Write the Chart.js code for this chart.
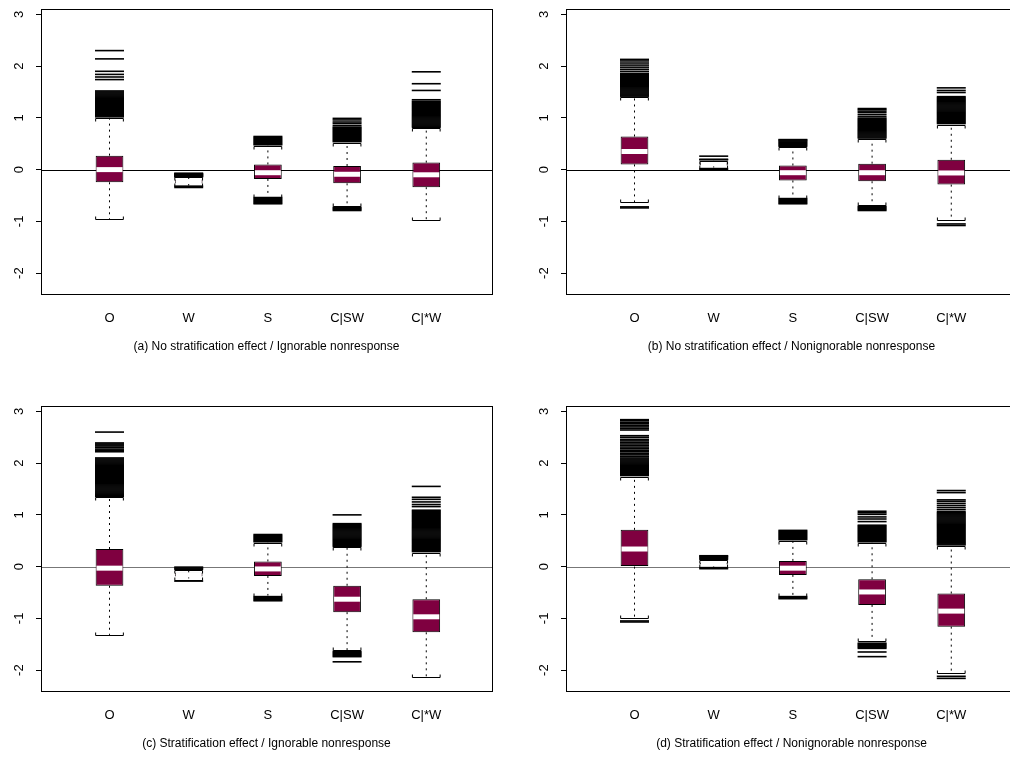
<!DOCTYPE html>
<html>
<head>
<meta charset="utf-8">
<script src="https://cdn.jsdelivr.net/npm/chart.js@4.4.0/dist/chart.umd.min.js"></script>
<style>
  html, body { margin: 0; padding: 0; background: #fff; overflow: hidden; }
  body { width: 1010px; height: 764px; position: relative; }
  .panel { position: absolute; width: 505px; height: 380px; }
</style>
</head>
<body>
<div class="panel" style="left:0;top:0"><canvas id="pa" width="505" height="380"></canvas></div>
<div class="panel" style="left:525px;top:0"><canvas id="pb" width="505" height="380"></canvas></div>
<div class="panel" style="left:0;top:397px"><canvas id="pc" width="505" height="380"></canvas></div>
<div class="panel" style="left:525px;top:397px"><canvas id="pd" width="505" height="380"></canvas></div>
<script>
const groups = ["O", "W", "S", "C|SW", "C|*W"];
const yTickValues = [-2, -1, 0, 1, 2, 3];

// (a) No stratification effect / Ignorable nonresponse
const aLow = [-0.96, -0.31, -0.52, -0.71, -0.98];
const aQ1 = [-0.245, -0.27, -0.18, -0.265, -0.34];
const aMed = [0.0, -0.23, -0.06, -0.09, -0.1];
const aQ3 = [0.27, -0.19, 0.1, 0.07, 0.135];
const aHigh = [1.0, -0.15, 0.46, 0.52, 0.8];
const aOut = [
  [1.02, 1.04, 1.06, 1.08, 1.10, 1.12, 1.14, 1.16, 1.18, 1.20, 1.22, 1.24, 1.26, 1.28, 1.30, 1.32, 1.34, 1.36, 1.38, 1.40, 1.42, 1.44, 1.46, 1.48, 1.50, 1.52, 1.74, 1.79, 1.84, 1.90, 2.14, 2.30],
  [-0.07, -0.08, -0.09, -0.10, -0.11, -0.12, -0.13, -0.14, -0.32, -0.345],
  [0.48, 0.50, 0.52, 0.54, 0.56, 0.58, 0.60, 0.62, 0.64, -0.54, -0.56, -0.58, -0.60, -0.62, -0.64, -0.66],
  [0.54, 0.56, 0.58, 0.60, 0.62, 0.64, 0.66, 0.68, 0.70, 0.72, 0.74, 0.76, 0.78, 0.80, 0.82, 0.85, 0.89, 0.92, 0.96, 0.99, -0.73, -0.75, -0.77, -0.79],
  [0.82, 0.84, 0.86, 0.88, 0.90, 0.92, 0.94, 0.96, 0.98, 1.00, 1.02, 1.04, 1.06, 1.08, 1.10, 1.12, 1.14, 1.16, 1.18, 1.20, 1.22, 1.24, 1.26, 1.28, 1.30, 1.32, 1.35, 1.53, 1.66, 1.89]
];

// (b) No stratification effect / Nonignorable nonresponse
const bLow = [-0.63, 0.04, -0.54, -0.68, -0.98];
const bQ1 = [0.1, 0.08, -0.21, -0.225, -0.29];
const bMed = [0.35, 0.11, -0.06, -0.06, -0.065];
const bQ3 = [0.64, 0.14, 0.08, 0.115, 0.19];
const bHigh = [1.4, 0.17, 0.43, 0.59, 0.87];
const bOut = [
  [1.42, 1.44, 1.46, 1.48, 1.50, 1.52, 1.54, 1.56, 1.58, 1.60, 1.62, 1.64, 1.66, 1.68, 1.70, 1.72, 1.74, 1.76, 1.78, 1.80, 1.82, 1.84, 1.86, 1.90, 1.94, 1.98, 2.02, 2.06, 2.10, 2.13, -0.72, -0.74],
  [0.19, 0.20, 0.26, 0.02, 0.0],
  [0.45, 0.47, 0.49, 0.51, 0.53, 0.55, 0.57, 0.58, -0.56, -0.58, -0.60, -0.62, -0.64, -0.66],
  [0.61, 0.63, 0.65, 0.67, 0.69, 0.71, 0.73, 0.75, 0.77, 0.79, 0.81, 0.83, 0.85, 0.87, 0.89, 0.91, 0.93, 0.95, 0.97, 0.99, 1.02, 1.06, 1.10, 1.13, 1.16, 1.18, -0.71, -0.73, -0.75, -0.77, -0.79],
  [0.89, 0.91, 0.93, 0.95, 0.97, 0.99, 1.01, 1.03, 1.05, 1.07, 1.09, 1.11, 1.13, 1.15, 1.17, 1.19, 1.21, 1.23, 1.25, 1.27, 1.29, 1.31, 1.33, 1.35, 1.37, 1.39, 1.41, 1.49, 1.53, 1.58, -1.05, -1.08]
];

// (c) Stratification effect / Ignorable nonresponse
const cLow = [-1.32, -0.26, -0.56, -1.62, -2.14];
const cQ1 = [-0.37, -0.19, -0.18, -0.88, -1.27];
const cMed = [-0.03, -0.16, -0.045, -0.63, -0.97];
const cQ3 = [0.34, -0.12, 0.1, -0.37, -0.63];
const cHigh = [1.34, -0.06, 0.46, 0.37, 0.27];
const cOut = [
  [1.36, 1.38, 1.40, 1.42, 1.44, 1.46, 1.48, 1.50, 1.52, 1.54, 1.56, 1.58, 1.60, 1.62, 1.64, 1.66, 1.68, 1.70, 1.72, 1.74, 1.76, 1.78, 1.80, 1.82, 1.84, 1.86, 1.88, 1.90, 1.92, 1.94, 1.96, 1.98, 2.00, 2.02, 2.04, 2.06, 2.08, 2.10, 2.22, 2.24, 2.27, 2.30, 2.33, 2.35, 2.37, 2.39, 2.60],
  [-0.01, -0.03, -0.05, -0.28],
  [0.48, 0.50, 0.52, 0.54, 0.56, 0.58, 0.60, 0.62, -0.58, -0.60, -0.62, -0.64, -0.66],
  [0.39, 0.41, 0.43, 0.45, 0.47, 0.49, 0.51, 0.53, 0.55, 0.57, 0.59, 0.61, 0.63, 0.65, 0.67, 0.69, 0.71, 0.73, 0.75, 0.77, 0.79, 0.81, 0.83, 1.00, -1.64, -1.66, -1.68, -1.70, -1.72, -1.74, -1.84],
  [0.29, 0.31, 0.33, 0.35, 0.37, 0.39, 0.41, 0.43, 0.45, 0.47, 0.49, 0.51, 0.53, 0.55, 0.57, 0.59, 0.61, 0.63, 0.65, 0.67, 0.69, 0.71, 0.73, 0.75, 0.77, 0.79, 0.81, 0.83, 0.85, 0.87, 0.89, 0.91, 0.93, 0.95, 0.97, 0.99, 1.01, 1.03, 1.05, 1.07, 1.09, 1.16, 1.20, 1.25, 1.30, 1.34, 1.55]
];

// (d) Stratification effect / Nonignorable nonresponse
const dLow = [-1.0, 0.0, -0.56, -1.43, -2.05];
const dQ1 = [0.0, 0.04, -0.16, -0.74, -1.16];
const dMed = [0.34, 0.06, -0.03, -0.49, -0.86];
const dQ3 = [0.71, 0.08, 0.11, -0.245, -0.52];
const dHigh = [1.74, 0.12, 0.5, 0.46, 0.4];
const dOut = [
  [1.76, 1.78, 1.80, 1.82, 1.84, 1.86, 1.88, 1.90, 1.92, 1.94, 1.96, 1.98, 2.00, 2.02, 2.04, 2.06, 2.08, 2.10, 2.13, 2.16, 2.19, 2.22, 2.25, 2.28, 2.31, 2.34, 2.37, 2.40, 2.43, 2.46, 2.50, 2.53, 2.64, 2.67, 2.70, 2.73, 2.76, 2.79, 2.82, 2.84, -1.05, -1.07],
  [0.14, 0.16, 0.18, 0.20, 0.21, -0.02, -0.04],
  [0.52, 0.54, 0.56, 0.58, 0.60, 0.62, 0.64, 0.66, 0.68, 0.70, -0.58, -0.60, -0.62],
  [0.48, 0.50, 0.52, 0.54, 0.56, 0.58, 0.60, 0.62, 0.64, 0.66, 0.68, 0.70, 0.72, 0.74, 0.76, 0.78, 0.80, 0.87, 0.92, 0.96, 1.01, 1.04, 1.07, -1.48, -1.50, -1.52, -1.54, -1.56, -1.58, -1.65, -1.74],
  [0.42, 0.44, 0.46, 0.48, 0.50, 0.52, 0.54, 0.56, 0.58, 0.60, 0.62, 0.64, 0.66, 0.68, 0.70, 0.72, 0.74, 0.76, 0.78, 0.80, 0.82, 0.84, 0.86, 0.88, 0.90, 0.92, 0.94, 0.96, 0.98, 1.00, 1.02, 1.04, 1.06, 1.10, 1.14, 1.18, 1.22, 1.26, 1.29, 1.43, 1.47, -2.12, -2.16]
];

const FONT = "'Liberation Sans', Arial, Helvetica, sans-serif";
const BOX_FILL = "#7f0040";

// R-style extras: zero line, whisker staples, full frame, vertical y labels
const rPanel = {
  id: "rPanel",
  beforeDatasetsDraw(chart, args, opts) {
    const { ctx, chartArea } = chart;
    const y0 = Math.round(chart.scales.y.getPixelForValue(0)) + 0.5;
    ctx.save();
    ctx.strokeStyle = opts.zeroColor;
    ctx.lineWidth = 1;
    ctx.beginPath();
    ctx.moveTo(chartArea.left, y0);
    ctx.lineTo(chartArea.right, y0);
    ctx.stroke();
    ctx.restore();
  },
  afterDatasetsDraw(chart, args, opts) {
    const { ctx, chartArea } = chart;
    const xs = chart.scales.x, ys = chart.scales.y;
    const bars = chart.getDatasetMeta(0).data;
    ctx.save();
    ctx.strokeStyle = "#000";
    ctx.lineWidth = 1;
    opts.low.forEach((lo, i) => {
      const x = xs.getPixelForValue(i + 1);
      const hw = bars[i].width / 2;
      const yl = Math.round(ys.getPixelForValue(lo)) + 0.5;
      const yh = Math.round(ys.getPixelForValue(opts.high[i])) + 0.5;
      ctx.beginPath();
      ctx.moveTo(x - hw, yl - 3); ctx.lineTo(x - hw, yl); ctx.lineTo(x + hw, yl); ctx.lineTo(x + hw, yl - 3);
      ctx.moveTo(x - hw, yh + 3); ctx.lineTo(x - hw, yh); ctx.lineTo(x + hw, yh); ctx.lineTo(x + hw, yh + 3);
      ctx.stroke();
    });
    // frame
    const l = Math.round(chartArea.left) + 0.5, t = Math.round(chartArea.top) + 0.5;
    ctx.strokeRect(l, t, Math.round(chartArea.right) - Math.round(chartArea.left), Math.round(chartArea.bottom) - Math.round(chartArea.top));
    // y tick labels, parallel to the axis
    ctx.fillStyle = "#000";
    ctx.font = "13px " + FONT;
    ctx.textAlign = "center";
    ctx.textBaseline = "middle";
    ys.ticks.forEach(t => {
      ctx.save();
      ctx.translate(chartArea.left - 22, ys.getPixelForValue(t.value));
      ctx.rotate(-Math.PI / 2);
      ctx.fillText(String(t.value), 0, 0);
      ctx.restore();
    });
    ctx.restore();
  }
};

function makePanel(id, caption, low, q1, med, q3, high, outs, zeroColor) {
  const boxes = groups.map((g, i) => ({ x: i + 1, y: [q1[i], q3[i]] }));
  const medians = groups.map((g, i) => ({ x: i + 1, y: med[i] }));
  const whiskers = [];
  groups.forEach((g, i) => {
    whiskers.push({ x: i + 1, y: q3[i] }, { x: i + 1, y: high[i] }, { x: i + 1, y: null });
    whiskers.push({ x: i + 1, y: q1[i] }, { x: i + 1, y: low[i] }, { x: i + 1, y: null });
  });
  const outliers = [];
  outs.forEach((arr, i) => arr.forEach(v => outliers.push({ x: i + 1, y: v })));

  return new Chart(document.getElementById(id), {
    type: "bar",
    data: {
      datasets: [
        {
          type: "bar",
          data: boxes,
          backgroundColor: BOX_FILL,
          borderColor: "#000",
          borderWidth: 1,
          borderSkipped: false,
          categoryPercentage: 1,
          barPercentage: 0.35,
          order: 2
        },
        {
          type: "line",
          data: whiskers,
          borderColor: "#000",
          borderWidth: 1,
          borderDash: [2, 4],
          pointRadius: 0,
          spanGaps: false,
          order: 3
        },
        {
          type: "scatter",
          data: medians,
          pointStyle: "line",
          pointRadius: 13,
          borderColor: "#fff",
          borderWidth: 5,
          order: 1
        },
        {
          type: "scatter",
          data: outliers,
          pointStyle: "line",
          pointRadius: 14.5,
          borderColor: "#000",
          borderWidth: 1.6,
          order: 0
        }
      ]
    },
    options: {
      responsive: false,
      animation: false,
      events: [],
      layout: { autoPadding: false, padding: { top: 9, right: 13, left: 0, bottom: 0 } },
      plugins: {
        legend: { display: false },
        tooltip: { enabled: false },
        rPanel: { zeroColor: zeroColor, low: low, high: high }
      },
      scales: {
        x: {
          type: "linear",
          offset: false,
          min: 0.135,
          max: 5.83,
          grid: { display: false },
          border: { display: false },
          afterBuildTicks: s => { s.ticks = groups.map((g, i) => ({ value: i + 1 })); },
          afterFit: s => { s.height = 86; },
          ticks: {
            autoSkip: false,
            maxRotation: 0,
            padding: 9,
            color: "#000",
            font: { family: FONT, size: 13 },
            callback: (v, i) => groups[i]
          },
          title: {
            display: true,
            text: caption,
            color: "#000",
            font: { family: FONT, size: 12 },
            padding: { top: 0, bottom: 26 }
          }
        },
        y: {
          type: "linear",
          min: -2.404,
          max: 3.104,
          afterFit: s => { s.width = 41; },
          afterBuildTicks: s => { s.ticks = yTickValues.map(v => ({ value: v })); },
          grid: { drawOnChartArea: false, drawTicks: true, tickLength: 5, color: "#000" },
          border: { display: true, color: "#000" },
          ticks: { display: false }
        }
      }
    },
    plugins: [rPanel]
  });
}

makePanel("pa", "(a) No stratification effect / Ignorable nonresponse", aLow, aQ1, aMed, aQ3, aHigh, aOut, "#000");
makePanel("pb", "(b) No stratification effect / Nonignorable nonresponse", bLow, bQ1, bMed, bQ3, bHigh, bOut, "#000");
makePanel("pc", "(c) Stratification effect / Ignorable nonresponse", cLow, cQ1, cMed, cQ3, cHigh, cOut, "#777");
makePanel("pd", "(d) Stratification effect / Nonignorable nonresponse", dLow, dQ1, dMed, dQ3, dHigh, dOut, "#777");
</script>
</body>
</html>
